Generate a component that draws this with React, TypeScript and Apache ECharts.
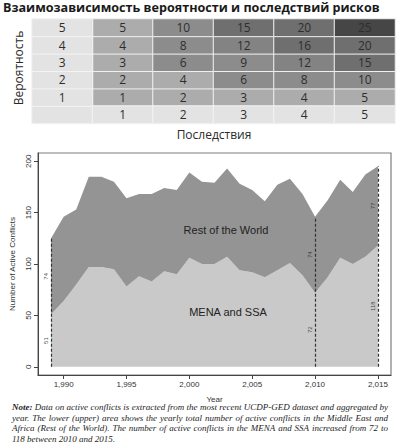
import React, { useEffect, useRef } from 'react';
import * as echarts from 'echarts';

const matrixTitle = 'Взаимозависимость вероятности и последствий рисков';
const probabilityName = 'Вероятность';
const consequenceName = 'Последствия';
const probabilityLabels = [1, 2, 3, 4, 5];
const consequenceLabels = [1, 2, 3, 4, 5];
const riskRow1 = [1, 2, 3, 4, 5];
const riskRow2 = [2, 4, 6, 8, 10];
const riskRow3 = [3, 6, 9, 12, 15];
const riskRow4 = [4, 8, 12, 16, 20];
const riskRow5 = [5, 10, 15, 20, 25];
const riskRows = [riskRow1, riskRow2, riskRow3, riskRow4, riskRow5];

const years = [1989, 1990, 1991, 1992, 1993, 1994, 1995, 1996, 1997, 1998, 1999, 2000, 2001, 2002,
  2003, 2004, 2005, 2006, 2007, 2008, 2009, 2010, 2011, 2012, 2013, 2014, 2015];
const menaSsa = [51, 64, 80, 97, 97, 95, 78, 88, 83, 93, 90, 106, 100, 100, 107, 94, 92, 87, 94, 101,
  89, 72, 87, 106, 100, 107, 118];
const restOfWorld = [74, 82, 73, 88, 88, 85, 86, 80, 85, 81, 82, 83, 80, 79, 86, 84, 80, 74, 83, 82,
  79, 74, 75, 76, 70, 80, 77];
const markedYears = [1989, 2010, 2015];
const xTicks = [1990, 1995, 2000, 2005, 2010, 2015];
const yTicks = [0, 50, 100, 150, 200];

const noteLines = [
  'Note: Data on active conflicts is extracted from the most recent UCDP-GED dataset and aggregated by',
  'year. The lower (upper) area shows the yearly total number of active conflicts in the Middle East and',
  'Africa (Rest of the World). The number of active conflicts in the MENA and SSA increased from 72 to',
  '118 between 2010 and 2015.',
];

function buildNote(): any[] {
  const left = 12;
  const right = 388;
  const lineY = [407, 417.5, 428, 438.5];
  const family = '"Liberation Serif", serif';
  const canvas = document.createElement('canvas');
  const ctx = canvas.getContext('2d')!;
  const fontOf = (size: number, bold: boolean) => `italic ${bold ? 'bold' : 'normal'} ${size}px ${family}`;
  let size = 9;
  const natural = (line: string, sz: number, first: boolean) => {
    const words = line.split(' ');
    let w = 0;
    words.forEach((wd, k) => {
      ctx.font = fontOf(sz, first && k === 0);
      w += ctx.measureText(wd).width;
    });
    ctx.font = fontOf(sz, false);
    w += ctx.measureText(' ').width * (words.length - 1);
    return w;
  };
  for (let i = 0; i < 3; i++) {
    const w = natural(noteLines[i], size, i === 0);
    if (w > right - left) size = (size * (right - left)) / w;
  }
  const els: any[] = [];
  noteLines.forEach((line, i) => {
    const words = line.split(' ');
    const widths = words.map((wd, k) => {
      ctx.font = fontOf(size, i === 0 && k === 0);
      return ctx.measureText(wd).width;
    });
    ctx.font = fontOf(size, false);
    const space = ctx.measureText(' ').width;
    const sum = widths.reduce((a, b) => a + b, 0);
    const gap = i < noteLines.length - 1 ? (right - left - sum) / (words.length - 1) : space;
    let x = left;
    words.forEach((wd, k) => {
      els.push({
        type: 'text',
        x,
        y: lineY[i],
        silent: true,
        style: {
          text: wd,
          fontFamily: family,
          fontStyle: 'italic',
          fontWeight: i === 0 && k === 0 ? 'bold' : 'normal',
          fontSize: size,
          fill: '#1e1e1e',
          verticalAlign: 'middle',
        },
      });
      x += widths[k] + gap;
    });
  });
  return els;
}

export default function App() {
  const ref = useRef<HTMLDivElement>(null);
  useEffect(() => {
    if (!ref.current) return;
    const chart = echarts.init(ref.current, undefined, { renderer: 'svg' });

    const cellData: any[] = [];
    riskRows.forEach((row, r) => row.forEach((v, c) => cellData.push([c + 1, r + 1, v])));
    const headerData: any[] = [[0, 0, 0]];
    probabilityLabels.forEach((p, r) => headerData.push([0, r + 1, p]));
    consequenceLabels.forEach((p, c) => headerData.push([c + 1, 0, p]));

    const mIdx = (yr: number) => years.indexOf(yr);
    const valueLabels: any[] = [];
    markedYears.forEach((yr) => {
      const i = mIdx(yr);
      valueLabels.push({ value: [yr, menaSsa[i] / 2], name: String(menaSsa[i]) });
      valueLabels.push({ value: [yr, menaSsa[i] + restOfWorld[i] / 2], name: String(restOfWorld[i]) });
    });

    const sans = '"Liberation Sans", Arial, sans-serif';
    const cellLabel = {
      show: true,
      fontSize: 12,
      fontFamily: '"Open Sans", sans-serif',
      color: '#2e2e2e',
    };

    chart.setOption({
      animation: false,
      backgroundColor: '#ffffff',
      grid: [
        { left: 32, top: 19, width: 363, height: 104.5 },
        { left: 32, top: 153, width: 359, height: 222, show: true, borderColor: '#7d7d7d', borderWidth: 1.2 },
      ],
      xAxis: [
        {
          gridIndex: 0,
          type: 'category',
          data: ['', ...consequenceLabels.map(String)],
          show: false,
        },
        {
          gridIndex: 1,
          type: 'value',
          min: 1987.96,
          max: 2016.04,
          splitLine: { show: false },
          axisLine: { show: true, onZero: false, lineStyle: { color: '#444', width: 1 } },
          axisTick: { show: true, customValues: xTicks, length: 4, lineStyle: { color: '#444' } },
          axisLabel: { customValues: xTicks, fontSize: 8, color: '#333', margin: 5, fontFamily: sans },
          name: 'Year',
          nameLocation: 'middle',
          nameGap: 20,
          nameTextStyle: { fontSize: 8, color: '#333', fontFamily: sans },
        },
      ],
      yAxis: [
        {
          gridIndex: 0,
          type: 'category',
          data: ['', ...probabilityLabels.map(String)],
          show: false,
        },
        {
          gridIndex: 1,
          type: 'value',
          min: -8,
          max: 208,
          splitLine: { show: false },
          axisLine: { show: true, onZero: false, lineStyle: { color: '#444', width: 1 } },
          axisTick: { show: true, customValues: yTicks, length: 4, lineStyle: { color: '#444' } },
          axisLabel: { customValues: yTicks, fontSize: 8, color: '#333', margin: 6, rotate: 90, fontFamily: sans },
          name: 'Number of Active Conflicts',
          nameLocation: 'middle',
          nameGap: 22,
          nameRotate: 90,
          nameTextStyle: { fontSize: 8, color: '#333', fontFamily: sans },
        },
      ],
      visualMap: [
        {
          type: 'piecewise',
          show: false,
          seriesIndex: 0,
          dimension: 2,
          pieces: [
            { min: 1, max: 5, color: '#acacac' },
            { min: 6, max: 10, color: '#8c8c8c' },
            { min: 11, max: 14, color: '#838383' },
            { min: 15, max: 20, color: '#6f6f6f' },
            { min: 21, max: 25, color: '#464646' },
          ],
        },
        {
          type: 'piecewise',
          show: false,
          seriesIndex: 1,
          dimension: 2,
          pieces: [{ min: -1, max: 100, color: '#e3e3e3' }],
        },
      ],
      series: [
        {
          type: 'heatmap',
          xAxisIndex: 0,
          yAxisIndex: 0,
          data: cellData,
          itemStyle: { borderColor: '#f0f0f0', borderWidth: 1 },
          label: { ...cellLabel, formatter: (p: any) => String(p.value[2]) },
          emphasis: { disabled: true },
        },
        {
          type: 'heatmap',
          xAxisIndex: 0,
          yAxisIndex: 0,
          data: headerData,
          itemStyle: { borderColor: '#f3f3f3', borderWidth: 1 },
          label: { ...cellLabel, formatter: (p: any) => (p.value[2] === 0 ? '' : String(p.value[2])) },
          emphasis: { disabled: true },
        },
        {
          name: 'MENA and SSA',
          type: 'line',
          xAxisIndex: 1,
          yAxisIndex: 1,
          stack: 'total',
          encode: { x: 1, y: 0 },
          data: years.map((y, i) => [menaSsa[i], y]),
          symbol: 'none',
          lineStyle: { width: 0 },
          areaStyle: { color: '#c9c9c9', opacity: 1 },
          z: 2,
        },
        {
          name: 'Rest of the World',
          type: 'line',
          xAxisIndex: 1,
          yAxisIndex: 1,
          stack: 'total',
          encode: { x: 1, y: 0 },
          data: years.map((y, i) => [restOfWorld[i], y]),
          symbol: 'none',
          lineStyle: { width: 0 },
          areaStyle: { color: '#949494', opacity: 1 },
          z: 2,
        },
        {
          type: 'scatter',
          xAxisIndex: 1,
          yAxisIndex: 1,
          data: valueLabels,
          symbolSize: 0,
          silent: true,
          z: 5,
          label: {
            show: true,
            formatter: (p: any) => p.name,
            rotate: 90,
            position: 'inside',
            offset: [0, -5],
            fontSize: 6,
            color: '#222',
            fontFamily: sans,
          },
          markLine: {
            silent: true,
            symbol: ['none', 'none'],
            label: { show: false },
            lineStyle: { type: [3, 2], color: '#333', width: 1.2 },
            data: markedYears.map((yr) => {
              const i = mIdx(yr);
              return [{ coord: [yr, 0] }, { coord: [yr, menaSsa[i] + restOfWorld[i]] }];
            }),
          },
        },
      ],
      graphic: [
        {
          type: 'text',
          left: 3,
          top: 1,
          style: {
            text: matrixTitle,
            fontFamily: '"Open Sans", sans-serif',
            fontWeight: 'bold',
            fontSize: 12.6,
            fill: '#1a1a1a',
          },
        },
        {
          type: 'text',
          x: 18,
          y: 68,
          rotation: Math.PI / 2,
          style: {
            text: probabilityName,
            fontFamily: '"Open Sans", sans-serif',
            fontSize: 12,
            fill: '#2a2a2a',
            align: 'center',
            verticalAlign: 'middle',
          },
        },
        {
          type: 'text',
          x: 214,
          y: 134,
          style: {
            text: consequenceName,
            fontFamily: '"Open Sans", sans-serif',
            fontSize: 12,
            fill: '#2a2a2a',
            align: 'center',
            verticalAlign: 'middle',
          },
        },
        {
          type: 'text',
          x: 226,
          y: 230,
          z: 10,
          style: { text: 'Rest of the World', fontFamily: sans, fontSize: 11, fill: '#222', align: 'center', verticalAlign: 'middle' },
        },
        {
          type: 'text',
          x: 228,
          y: 312,
          z: 10,
          style: { text: 'MENA and SSA', fontFamily: sans, fontSize: 11, fill: '#222', align: 'center', verticalAlign: 'middle' },
        },
        ...buildNote(),
      ],
    });
    return () => chart.dispose();
  }, []);
  return (
    <div
      ref={ref}
      style={{ position: 'fixed', left: 0, top: 0, width: 396, height: 444, background: '#fff' }}
    />
  );
}
